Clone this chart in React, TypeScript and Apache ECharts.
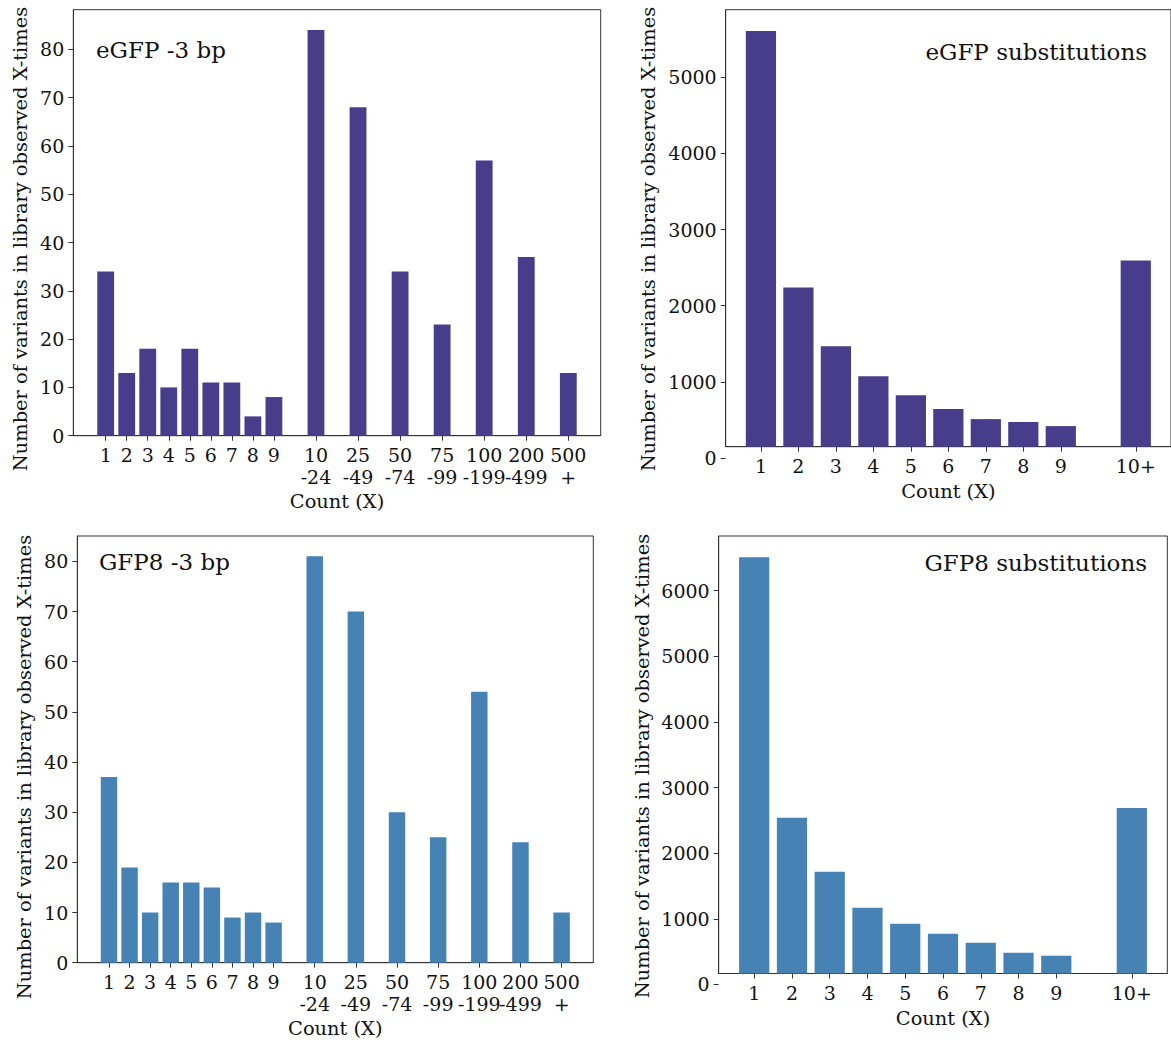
import React, { useEffect, useRef } from 'react';
import * as echarts from 'echarts';

const FONT = 'DejaVu Serif';
const AX = '#333';
const TXT = '#111';
const TICK_FS = 19;

// ---- data ----
const indelLabels = ['1', '2', '3', '4', '5', '6', '7', '8', '9', '10\n-24', '25\n-49', '50\n-74', '75\n-99', '100\n-199', '200\n-499', '500\n+'];
const indelPositions = [1, 2, 3, 4, 5, 6, 7, 8, 9, 11, 13, 15, 17, 19, 21, 23];
const egfpIndel = [34, 13, 18, 10, 18, 11, 11, 4, 8, 84, 68, 34, 23, 57, 37, 13];
const gfp8Indel = [37, 19, 10, 16, 16, 15, 9, 10, 8, 81, 70, 30, 25, 54, 24, 10];

const subLabels = ['1', '2', '3', '4', '5', '6', '7', '8', '9', '10+'];
const subPositions = [1, 2, 3, 4, 5, 6, 7, 8, 9, 11];
const egfpSub = [5607, 2240, 1467, 1074, 825, 642, 511, 472, 419, 2594];
const gfp8Sub = [6508, 2538, 1716, 1168, 924, 772, 635, 482, 437, 2690];

const indelYTicks = [0, 10, 20, 30, 40, 50, 60, 70, 80];
const egfpSubYTicks = [0, 1000, 2000, 3000, 4000, 5000];
const gfp8SubYTicks = [0, 1000, 2000, 3000, 4000, 5000, 6000];

const Y_LABEL = 'Number of variants in library observed X-times';
const X_LABEL = 'Count (X)';

type Panel = {
  title: string;
  titleLeft?: number;
  titleRight?: number;
  titleTop: number;
  left: number;
  width: number;
  top: number;
  bottom: number;
  zero?: number;
  positions: number[];
  labels: string[];
  values: number[];
  yTicks: number[];
  color: string;
  xNameGap: number;
  yLabelX: number;
  yLabelY: number;
};

const panels: Panel[] = [
  {
    title: 'eGFP -3 bp', titleLeft: 96, titleTop: 38,
    left: 73.3, width: 527.4, top: 9.7, bottom: 435.7,
    positions: indelPositions, labels: indelLabels, values: egfpIndel, yTicks: indelYTicks,
    color: '#483D8B', xNameGap: 56, yLabelX: 20, yLabelY: 239,
  },
  {
    title: 'eGFP substitutions', titleRight: 24, titleTop: 40,
    left: 725.7, width: 448.7, top: 9.7, bottom: 446.7, zero: 458,
    positions: subPositions, labels: subLabels, values: egfpSub, yTicks: egfpSubYTicks,
    color: '#483D8B', xNameGap: 35, yLabelX: 648, yLabelY: 239,
  },
  {
    title: 'GFP8 -3 bp', titleLeft: 99, titleTop: 550,
    left: 77.3, width: 516, top: 536, bottom: 962.7,
    positions: indelPositions, labels: indelLabels, values: gfp8Indel, yTicks: indelYTicks,
    color: '#4682B4', xNameGap: 56, yLabelX: 24.5, yLabelY: 767,
  },
  {
    title: 'GFP8 substitutions', titleRight: 24, titleTop: 551,
    left: 718.7, width: 448.6, top: 536, bottom: 973.5, zero: 984.4,
    positions: subPositions, labels: subLabels, values: gfp8Sub, yTicks: gfp8SubYTicks,
    color: '#4682B4', xNameGap: 35, yLabelX: 642, yLabelY: 766,
  },
];

function lookup(positions: number[], labels: string[], v: number) {
  for (let i = 0; i < positions.length; i++) {
    if (Math.abs(positions[i] - v) < 1e-6) return labels[i];
  }
  return '';
}

function buildOption() {
  const grid: any[] = [];
  const xAxis: any[] = [];
  const yAxis: any[] = [];
  const series: any[] = [];
  const title: any[] = [];
  const graphic: any[] = [];

  panels.forEach((p) => {
    const lo = p.positions[0] - 0.4;
    const hi = p.positions[p.positions.length - 1] + 0.4;
    const m = 0.05 * (hi - lo);
    const xmin = lo - m;
    const xmax = hi + m;
    const ymax = Math.max(...p.values) * 1.05;
    const hasZeroOutside = p.zero !== undefined;
    const ymin = hasZeroOutside ? (ymax * ((p.zero as number) - p.bottom)) / ((p.zero as number) - p.top) : 0;

    const gi = grid.length;
    grid.push({
      left: p.left, top: p.top, width: p.width, height: p.bottom - p.top,
      show: true, borderColor: AX, borderWidth: 1, backgroundColor: 'transparent',
    });
    const xi = xAxis.length;
    xAxis.push({
      type: 'value', gridIndex: gi, min: xmin, max: xmax,
      splitLine: { show: false },
      axisLine: { show: true, onZero: false, lineStyle: { color: AX, width: 1 } },
      axisTick: { show: true, customValues: p.positions, length: 5, lineStyle: { color: AX, width: 1 } },
      axisLabel: {
        customValues: p.positions,
        formatter: (v: number) => lookup(p.positions, p.labels, v),
        fontFamily: FONT, fontSize: TICK_FS, color: TXT, margin: 8, lineHeight: 22,
      },
      name: X_LABEL, nameLocation: 'middle', nameGap: p.xNameGap,
      nameTextStyle: { fontFamily: FONT, fontSize: 19.4, color: TXT },
    });
    const yi = yAxis.length;
    yAxis.push({
      type: 'value', gridIndex: gi, min: ymin, max: ymax,
      splitLine: { show: false },
      axisLine: { show: true, onZero: false, lineStyle: { color: AX, width: 1 } },
      axisTick: hasZeroOutside
        ? { show: false }
        : { show: true, customValues: p.yTicks, length: 5, lineStyle: { color: AX, width: 1 } },
      axisLabel: hasZeroOutside
        ? { show: false }
        : {
            customValues: p.yTicks, formatter: (v: number) => String(v),
            fontFamily: FONT, fontSize: TICK_FS, color: TXT, margin: 9,
          },
    });
    series.push({
      type: 'bar', xAxisIndex: xi, yAxisIndex: yi, silent: true,
      data: p.positions.map((x, i) => [x, p.values[i]]),
      barWidth: (0.8 * p.width) / (xmax - xmin),
      itemStyle: { color: p.color },
    });

    if (hasZeroOutside) {
      // label grid: same scale, extended down to the zero line
      const g2 = grid.length;
      grid.push({ left: p.left, top: p.top, width: p.width, height: (p.zero as number) - p.top });
      xAxis.push({ type: 'value', gridIndex: g2, min: 0, max: 1, show: false });
      yAxis.push({
        type: 'value', gridIndex: g2, min: 0, max: ymax,
        splitLine: { show: false },
        axisLine: { show: false },
        axisTick: { show: true, customValues: p.yTicks, length: 5, lineStyle: { color: AX, width: 1 } },
        axisLabel: {
          customValues: p.yTicks, formatter: (v: number) => String(v),
          fontFamily: FONT, fontSize: TICK_FS, color: TXT, margin: 9,
        },
      });
    }

    const t: any = {
      text: p.title, top: p.titleTop, padding: 0,
      textStyle: { fontFamily: FONT, fontSize: 23, fontWeight: 'normal', color: TXT },
    };
    if (p.titleLeft !== undefined) t.left = p.titleLeft;
    if (p.titleRight !== undefined) t.right = p.titleRight;
    title.push(t);

    graphic.push({
      type: 'text', x: p.yLabelX, y: p.yLabelY, rotation: Math.PI / 2, silent: true,
      style: {
        text: Y_LABEL, fill: TXT, font: `19.4px "${FONT}"`,
        textAlign: 'center', textVerticalAlign: 'middle',
      },
    });
  });

  return { animation: false, backgroundColor: '#fff', title, grid, xAxis, yAxis, series, graphic };
}

export default function App() {
  const ref = useRef<HTMLDivElement>(null);
  useEffect(() => {
    if (!ref.current) return;
    const chart = echarts.init(ref.current, undefined, { renderer: 'svg' });
    chart.setOption(buildOption() as any);
    return () => chart.dispose();
  }, []);
  return (
    <div
      ref={ref}
      style={{ position: 'fixed', left: 0, top: 0, width: 1171, height: 1043, background: '#fff' }}
    />
  );
}
